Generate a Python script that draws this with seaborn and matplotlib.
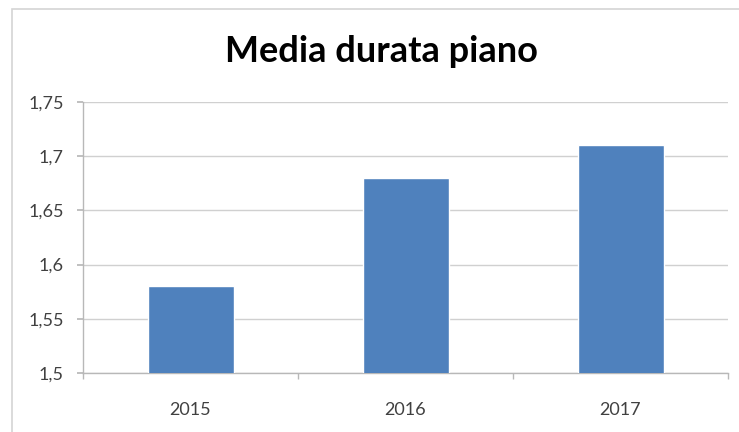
import matplotlib
matplotlib.use("Agg")
import matplotlib.pyplot as plt
import matplotlib.ticker as mticker
from matplotlib.patches import Rectangle
import seaborn as sns
import pandas as pd

# Average plan duration per year
anni = ["2015", "2016", "2017"]
media_durata = [1.58, 1.68, 1.71]
y_ticks = [1.5, 1.55, 1.6, 1.65, 1.7, 1.75]

df = pd.DataFrame({"anno": anni, "media": media_durata})

sns.set_theme(style="white")
plt.rcParams["font.family"] = ["Lato", "DejaVu Sans"]

W, H = 739, 432
fig = plt.figure(figsize=(W / 100, H / 100), dpi=100)
fig.patch.set_facecolor("white")

# chart frame
fig.patches.append(Rectangle((12 / W, -0.05), 1.2, (H - 9) / H + 0.05,
                             transform=fig.transFigure, fill=False,
                             edgecolor="#d4d4d4", linewidth=1.2, zorder=0))

left, right, top, bottom = 83 / W, 728 / W, 1 - 102 / H, 1 - 373 / H
ax = fig.add_axes([left, bottom, right - left, top - bottom])

sns.barplot(data=df, x="anno", y="media", color="#4F81BD", saturation=1,
            width=0.4, ax=ax, zorder=3)

ax.set_ylim(1.5, 1.75)
ax.set_xlim(-0.5, 2.5)
ax.set_yticks(y_ticks)
ax.yaxis.set_major_formatter(mticker.FuncFormatter(
    lambda v, _: f"{v:g}".replace(".", ",")))
ax.yaxis.grid(True, color="#d0d0d0", linewidth=1.0, zorder=0)
ax.set_axisbelow(True)

for s in ["top", "right"]:
    ax.spines[s].set_visible(False)
for s in ["left", "bottom"]:
    ax.spines[s].set_color("#b8b8b8")
    ax.spines[s].set_linewidth(1.0)

ax.set_xlabel("")
ax.set_ylabel("")
ax.tick_params(axis="y", length=4, color="#b8b8b8", labelsize=13,
               labelcolor="#404040", pad=10, left=True)
ax.tick_params(axis="x", length=0, labelsize=13, labelcolor="#404040", pad=21)

# category boundary ticks on the x axis
ax.set_xticks([-0.5, 0.5, 1.5, 2.5], minor=True)
ax.tick_params(axis="x", which="minor", length=4, color="#b8b8b8", bottom=True)

fig.text(381 / W, 1 - 52 / H, "Media durata piano", ha="center", va="center",
         fontsize=26, fontweight="bold", color="black")

fig.savefig("out.png", dpi=100, facecolor="white")
